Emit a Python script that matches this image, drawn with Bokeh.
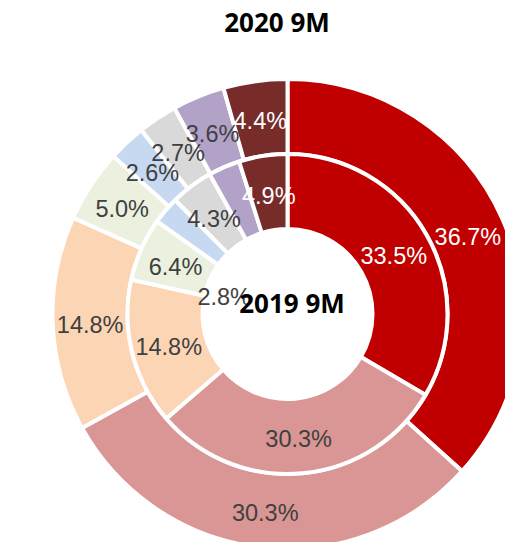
import numpy as np
from bokeh.plotting import figure
from bokeh.models import ColumnDataSource, Range1d
from bokeh.embed import file_html
from bokeh.resources import INLINE
from bokeh.core.properties import value

# ---- data ----
segments = ["Seg 1", "Seg 2", "Seg 3", "Seg 4", "Seg 5", "Seg 6", "Seg 7", "Seg 8"]
outer_2020 = [36.7, 30.3, 14.8, 5.0, 2.6, 2.7, 3.6, 4.4]
inner_2019 = [33.5, 30.3, 14.8, 6.4, 2.8, 4.3, 3.2, 4.9]
outer_labels = ["36.7%", "30.3%", "14.8%", "5.0%", "2.6%", "2.7%", "3.6%", "4.4%"]
inner_labels = ["33.5%", "30.3%", "14.8%", "6.4%", "2.8%", "4.3%", "", "4.9%"]
outer_title = "2020 9M"
inner_title = "2019 9M"

# ---- styles ----
colors = ["#C00000", "#D99694", "#FCD5B5", "#EBF1DE", "#C6D9F1", "#D9D9D9", "#B3A2C7", "#772C2A"]
label_colors = ["white", "#404040", "#404040", "#404040", "#404040", "#404040", "#404040", "white"]

W, H = 505, 542
cx, cy = 287, 550 - 313.5
r_hole, r_mid, r_out = 85, 160, 235

p = figure(width=W, height=H, output_backend="svg", toolbar_location=None,
           x_range=Range1d(0, 505), y_range=Range1d(8, 550),
           x_axis_location=None, y_axis_location=None, min_border=0)
p.grid.visible = False
p.outline_line_color = None
p.background_fill_color = "white"
p.border_fill_color = "white"


def ring(vals, r0, r1, labels, offsets):
    v = np.array(vals, dtype=float)
    frac = v / v.sum()
    cum_end = np.cumsum(frac)
    cum_start = cum_end - frac
    start = np.pi / 2 - 2 * np.pi * cum_start
    end = np.pi / 2 - 2 * np.pi * cum_end
    mid = (start + end) / 2
    rl = (r0 + r1) / 2
    src = ColumnDataSource(dict(
        x=[cx] * len(v), y=[cy] * len(v), start=start, end=end, color=colors,
        lx=cx + rl * np.cos(mid), ly=cy + rl * np.sin(mid),
        text=labels, tcolor=label_colors,
        xo=[o[0] for o in offsets], yo=[o[1] for o in offsets],
    ))
    p.annular_wedge(x="x", y="y", inner_radius=r0, outer_radius=r1,
                    start_angle="start", end_angle="end", direction="clock",
                    fill_color="color", line_color="white", line_width=4, source=src)
    return src


outer_src = ring(outer_2020, r_mid, r_out, outer_labels, [(0, 3)] * 8)
inner_offsets = [(0, 3)] * 8
inner_offsets[4] = (30, 62)
inner_src = ring(inner_2019, r_hole, r_mid, inner_labels, inner_offsets)

for src in (outer_src, inner_src):
    p.text(x="lx", y="ly", text="text", text_color="tcolor",
           x_offset="xo", y_offset="yo",
           text_font=value("Liberation Sans"), text_font_size="23.5px",
           text_align="center", text_baseline="middle", source=src)

p.text(x=[276.5], y=[550 - 21], text=[outer_title], text_font=value("Open Sans"),
       text_font_style="bold", text_font_size="26px", text_color="black",
       text_align="center", text_baseline="middle")
p.text(x=[291.5], y=[550 - 302], text=[inner_title], text_font=value("Open Sans"),
       text_font_style="bold", text_font_size="26px", text_color="black",
       text_align="center", text_baseline="middle")

open("out.html", "w").write(file_html(p, INLINE))
